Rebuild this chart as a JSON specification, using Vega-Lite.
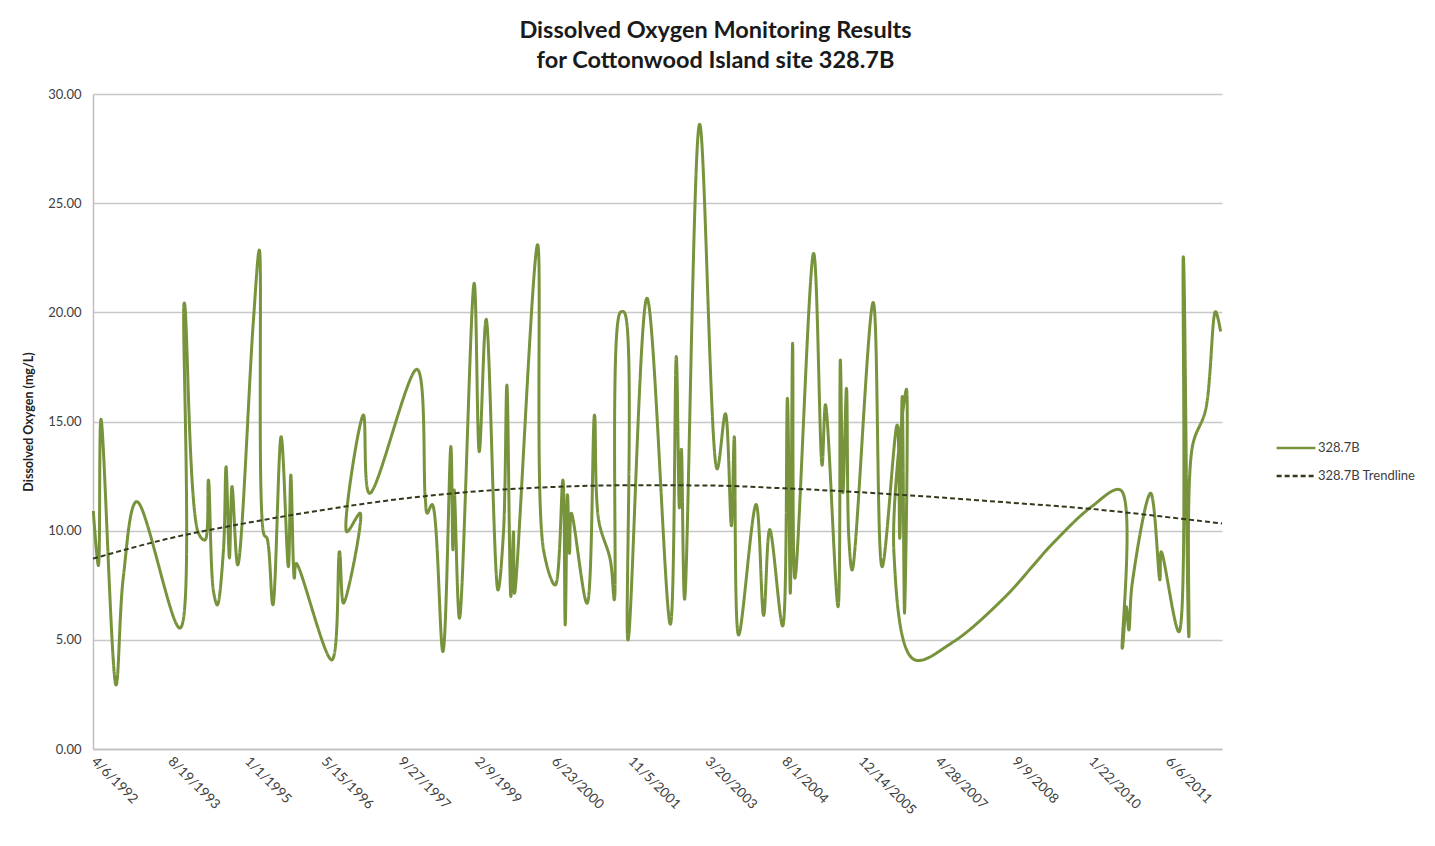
{
 "$schema": "https://vega.github.io/schema/vega-lite/v6.json",
 "width": 1129,
 "height": 655,
 "autosize": {"type": "none"},
 "padding": {"left": 93, "top": 94, "right": 213, "bottom": 97},
 "background": "white",
 "config": {"font": "Lato", "view": {"stroke": null}},
 "title": {
  "text": ["Dissolved Oxygen Monitoring Results", "for Cottonwood Island site 328.7B"],
  "frame": "group", "anchor": "middle", "dx": 58, "offset": 16,
  "fontSize": 23.5, "fontWeight": "bold", "color": "#1a1a1a", "lineHeight": 30, "font": "Lato"
 },
 "datasets": {
  "obs": [
   {"order": 1, "date": "1992-04-08", "value": 10.9, "series": "328.7B"},
   {"order": 2, "date": "1992-05-11", "value": 8.4, "series": "328.7B"},
   {"order": 3, "date": "1992-05-28", "value": 15.1, "series": "328.7B"},
   {"order": 4, "date": "1992-09-03", "value": 2.93, "series": "328.7B"},
   {"order": 5, "date": "1992-10-21", "value": 7.9, "series": "328.7B"},
   {"order": 6, "date": "1993-01-16", "value": 11.33, "series": "328.7B"},
   {"order": 7, "date": "1993-10-25", "value": 5.54, "series": "328.7B"},
   {"order": 8, "date": "1993-11-22", "value": 20.43, "series": "328.7B"},
   {"order": 9, "date": "1994-02-22", "value": 9.89, "series": "328.7B"},
   {"order": 10, "date": "1994-04-06", "value": 9.57, "series": "328.7B"},
   {"order": 11, "date": "1994-04-28", "value": 12.32, "series": "328.7B"},
   {"order": 12, "date": "1994-05-30", "value": 7.28, "series": "328.7B"},
   {"order": 13, "date": "1994-06-25", "value": 6.6, "series": "328.7B"},
   {"order": 14, "date": "1994-08-04", "value": 9.1, "series": "328.7B"},
   {"order": 15, "date": "1994-08-21", "value": 12.93, "series": "328.7B"},
   {"order": 16, "date": "1994-09-12", "value": 8.75, "series": "328.7B"},
   {"order": 17, "date": "1994-09-29", "value": 12.02, "series": "328.7B"},
   {"order": 18, "date": "1994-11-05", "value": 8.43, "series": "328.7B"},
   {"order": 19, "date": "1995-02-15", "value": 19.6, "series": "328.7B"},
   {"order": 20, "date": "1995-03-26", "value": 22.85, "series": "328.7B"},
   {"order": 21, "date": "1995-04-26", "value": 9.8, "series": "328.7B"},
   {"order": 22, "date": "1995-05-14", "value": 9.67, "series": "328.7B"},
   {"order": 23, "date": "1995-06-22", "value": 6.6, "series": "328.7B"},
   {"order": 24, "date": "1995-08-15", "value": 14.3, "series": "328.7B"},
   {"order": 25, "date": "1995-10-01", "value": 8.35, "series": "328.7B"},
   {"order": 26, "date": "1995-10-17", "value": 12.55, "series": "328.7B"},
   {"order": 27, "date": "1995-11-09", "value": 7.82, "series": "328.7B"},
   {"order": 28, "date": "1995-11-21", "value": 8.5, "series": "328.7B"},
   {"order": 29, "date": "1996-07-10", "value": 4.08, "series": "328.7B"},
   {"order": 30, "date": "1996-08-29", "value": 9.04, "series": "328.7B"},
   {"order": 31, "date": "1996-09-24", "value": 6.68, "series": "328.7B"},
   {"order": 32, "date": "1997-01-11", "value": 10.8, "series": "328.7B"},
   {"order": 33, "date": "1996-10-16", "value": 9.95, "series": "328.7B"},
   {"order": 34, "date": "1997-02-01", "value": 15.3, "series": "328.7B"},
   {"order": 35, "date": "1997-03-13", "value": 11.71, "series": "328.7B"},
   {"order": 36, "date": "1998-01-16", "value": 17.39, "series": "328.7B"},
   {"order": 37, "date": "1998-03-11", "value": 11.5, "series": "328.7B"},
   {"order": 38, "date": "1998-03-24", "value": 10.8, "series": "328.7B"},
   {"order": 39, "date": "1998-04-25", "value": 11.2, "series": "328.7B"},
   {"order": 40, "date": "1998-07-04", "value": 4.46, "series": "328.7B"},
   {"order": 41, "date": "1998-08-25", "value": 13.85, "series": "328.7B"},
   {"order": 42, "date": "1998-09-07", "value": 9.12, "series": "328.7B"},
   {"order": 43, "date": "1998-09-16", "value": 11.86, "series": "328.7B"},
   {"order": 44, "date": "1998-10-20", "value": 5.99, "series": "328.7B"},
   {"order": 45, "date": "1999-01-24", "value": 21.33, "series": "328.7B"},
   {"order": 46, "date": "1999-02-26", "value": 13.62, "series": "328.7B"},
   {"order": 47, "date": "1999-04-12", "value": 19.68, "series": "328.7B"},
   {"order": 48, "date": "1999-06-28", "value": 7.28, "series": "328.7B"},
   {"order": 49, "date": "1999-08-03", "value": 9.95, "series": "328.7B"},
   {"order": 50, "date": "1999-08-25", "value": 16.67, "series": "328.7B"},
   {"order": 51, "date": "1999-09-20", "value": 6.98, "series": "328.7B"},
   {"order": 52, "date": "1999-10-07", "value": 9.95, "series": "328.7B"},
   {"order": 53, "date": "1999-10-14", "value": 7.13, "series": "328.7B"},
   {"order": 54, "date": "2000-03-12", "value": 23.09, "series": "328.7B"},
   {"order": 55, "date": "2000-04-20", "value": 9.12, "series": "328.7B"},
   {"order": 56, "date": "2000-07-05", "value": 7.51, "series": "328.7B"},
   {"order": 57, "date": "2000-08-24", "value": 12.32, "series": "328.7B"},
   {"order": 58, "date": "2000-09-08", "value": 5.68, "series": "328.7B"},
   {"order": 59, "date": "2000-09-23", "value": 11.64, "series": "328.7B"},
   {"order": 60, "date": "2000-10-06", "value": 8.96, "series": "328.7B"},
   {"order": 61, "date": "2000-10-18", "value": 10.8, "series": "328.7B"},
   {"order": 62, "date": "2001-01-28", "value": 6.67, "series": "328.7B"},
   {"order": 63, "date": "2001-03-18", "value": 15.3, "series": "328.7B"},
   {"order": 64, "date": "2001-04-14", "value": 10.49, "series": "328.7B"},
   {"order": 65, "date": "2001-06-29", "value": 8.66, "series": "328.7B"},
   {"order": 66, "date": "2001-07-25", "value": 6.83, "series": "328.7B"},
   {"order": 67, "date": "2001-09-02", "value": 20.0, "series": "328.7B"},
   {"order": 68, "date": "2001-09-28", "value": 20.0, "series": "328.7B"},
   {"order": 69, "date": "2001-10-22", "value": 4.99, "series": "328.7B"},
   {"order": 70, "date": "2002-02-23", "value": 20.65, "series": "328.7B"},
   {"order": 71, "date": "2002-07-25", "value": 5.71, "series": "328.7B"},
   {"order": 72, "date": "2002-09-02", "value": 17.98, "series": "328.7B"},
   {"order": 73, "date": "2002-09-22", "value": 11.04, "series": "328.7B"},
   {"order": 74, "date": "2002-10-05", "value": 13.73, "series": "328.7B"},
   {"order": 75, "date": "2002-10-26", "value": 6.86, "series": "328.7B"},
   {"order": 76, "date": "2003-02-01", "value": 28.62, "series": "328.7B"},
   {"order": 77, "date": "2003-05-26", "value": 12.83, "series": "328.7B"},
   {"order": 78, "date": "2003-07-19", "value": 15.36, "series": "328.7B"},
   {"order": 79, "date": "2003-08-27", "value": 10.22, "series": "328.7B"},
   {"order": 80, "date": "2003-09-15", "value": 14.3, "series": "328.7B"},
   {"order": 81, "date": "2003-10-13", "value": 5.22, "series": "328.7B"},
   {"order": 82, "date": "2004-02-04", "value": 11.2, "series": "328.7B"},
   {"order": 83, "date": "2004-03-24", "value": 6.12, "series": "328.7B"},
   {"order": 84, "date": "2004-05-03", "value": 10.05, "series": "328.7B"},
   {"order": 85, "date": "2004-07-26", "value": 5.63, "series": "328.7B"},
   {"order": 86, "date": "2004-08-26", "value": 16.06, "series": "328.7B"},
   {"order": 87, "date": "2004-09-14", "value": 7.13, "series": "328.7B"},
   {"order": 88, "date": "2004-09-29", "value": 18.58, "series": "328.7B"},
   {"order": 89, "date": "2004-10-14", "value": 7.82, "series": "328.7B"},
   {"order": 90, "date": "2005-02-13", "value": 22.7, "series": "328.7B"},
   {"order": 91, "date": "2005-04-09", "value": 13.0, "series": "328.7B"},
   {"order": 92, "date": "2005-05-01", "value": 15.77, "series": "328.7B"},
   {"order": 93, "date": "2005-07-22", "value": 6.52, "series": "328.7B"},
   {"order": 94, "date": "2005-08-06", "value": 17.82, "series": "328.7B"},
   {"order": 95, "date": "2005-08-23", "value": 11.74, "series": "328.7B"},
   {"order": 96, "date": "2005-09-15", "value": 16.52, "series": "328.7B"},
   {"order": 97, "date": "2005-09-30", "value": 9.72, "series": "328.7B"},
   {"order": 98, "date": "2005-10-22", "value": 8.2, "series": "328.7B"},
   {"order": 99, "date": "2006-03-08", "value": 20.45, "series": "328.7B"},
   {"order": 100, "date": "2006-05-05", "value": 8.35, "series": "328.7B"},
   {"order": 101, "date": "2006-08-11", "value": 14.84, "series": "328.7B"},
   {"order": 102, "date": "2006-08-28", "value": 9.65, "series": "328.7B"},
   {"order": 103, "date": "2006-09-13", "value": 16.14, "series": "328.7B"},
   {"order": 104, "date": "2006-09-28", "value": 6.22, "series": "328.7B"},
   {"order": 105, "date": "2006-10-11", "value": 16.48, "series": "328.7B"},
   {"order": 106, "date": "2006-07-21", "value": 9.0, "series": "328.7B"},
   {"order": 107, "date": "2006-11-29", "value": 4.1, "series": "328.7B"},
   {"order": 108, "date": "2007-07-31", "value": 4.85, "series": "328.7B"},
   {"order": 109, "date": "2008-06-28", "value": 6.85, "series": "328.7B"},
   {"order": 110, "date": "2009-05-26", "value": 9.45, "series": "328.7B"},
   {"order": 111, "date": "2010-01-29", "value": 11.1, "series": "328.7B"},
   {"order": 112, "date": "2010-08-06", "value": 11.86, "series": "328.7B"},
   {"order": 113, "date": "2010-08-17", "value": 4.61, "series": "328.7B"},
   {"order": 114, "date": "2010-09-12", "value": 6.52, "series": "328.7B"},
   {"order": 115, "date": "2010-09-29", "value": 5.45, "series": "328.7B"},
   {"order": 116, "date": "2010-10-21", "value": 7.59, "series": "328.7B"},
   {"order": 117, "date": "2011-02-18", "value": 11.71, "series": "328.7B"},
   {"order": 118, "date": "2011-04-19", "value": 7.74, "series": "328.7B"},
   {"order": 119, "date": "2011-04-28", "value": 9.04, "series": "328.7B"},
   {"order": 120, "date": "2011-08-21", "value": 5.37, "series": "328.7B"},
   {"order": 121, "date": "2011-09-19", "value": 22.55, "series": "328.7B"},
   {"order": 122, "date": "2011-10-25", "value": 5.14, "series": "328.7B"},
   {"order": 123, "date": "2011-11-17", "value": 13.85, "series": "328.7B"},
   {"order": 124, "date": "2012-02-11", "value": 15.53, "series": "328.7B"},
   {"order": 125, "date": "2012-04-16", "value": 20.03, "series": "328.7B"},
   {"order": 126, "date": "2012-05-19", "value": 19.12, "series": "328.7B"}
  ],
  "trend": [
   {"date": "1992-04-06", "value": 8.72, "series": "328.7B Trendline"},
   {"date": "1993-08-19", "value": 9.65, "series": "328.7B Trendline"},
   {"date": "1995-01-01", "value": 10.35, "series": "328.7B Trendline"},
   {"date": "1996-05-15", "value": 10.95, "series": "328.7B Trendline"},
   {"date": "1997-09-27", "value": 11.45, "series": "328.7B Trendline"},
   {"date": "1999-02-09", "value": 11.8, "series": "328.7B Trendline"},
   {"date": "2000-06-23", "value": 12.0, "series": "328.7B Trendline"},
   {"date": "2001-11-05", "value": 12.08, "series": "328.7B Trendline"},
   {"date": "2003-03-20", "value": 12.07, "series": "328.7B Trendline"},
   {"date": "2004-08-01", "value": 11.94, "series": "328.7B Trendline"},
   {"date": "2005-12-14", "value": 11.76, "series": "328.7B Trendline"},
   {"date": "2007-04-28", "value": 11.53, "series": "328.7B Trendline"},
   {"date": "2008-09-09", "value": 11.27, "series": "328.7B Trendline"},
   {"date": "2010-01-22", "value": 11.0, "series": "328.7B Trendline"},
   {"date": "2011-06-06", "value": 10.62, "series": "328.7B Trendline"},
   {"date": "2012-05-28", "value": 10.33, "series": "328.7B Trendline"}
  ]
 },
 "encoding": {
  "x": {
   "field": "date", "type": "temporal",
   "scale": {"type": "utc", "domain": [{"year": 1992, "month": 4, "date": 6, "utc": true}, {"year": 2012, "month": 5, "date": 28, "utc": true}]},
   "axis": {
    "title": null, "grid": false, "ticks": false,
    "domain": true, "domainColor": "#bfbfbf", "domainWidth": 1.5,
    "values": [
     {"year": 1992, "month": 4, "date": 6, "utc": true},
     {"year": 1993, "month": 8, "date": 19, "utc": true},
     {"year": 1995, "month": 1, "date": 1, "utc": true},
     {"year": 1996, "month": 5, "date": 15, "utc": true},
     {"year": 1997, "month": 9, "date": 27, "utc": true},
     {"year": 1999, "month": 2, "date": 9, "utc": true},
     {"year": 2000, "month": 6, "date": 23, "utc": true},
     {"year": 2001, "month": 11, "date": 5, "utc": true},
     {"year": 2003, "month": 3, "date": 20, "utc": true},
     {"year": 2004, "month": 8, "date": 1, "utc": true},
     {"year": 2005, "month": 12, "date": 14, "utc": true},
     {"year": 2007, "month": 4, "date": 28, "utc": true},
     {"year": 2008, "month": 9, "date": 9, "utc": true},
     {"year": 2010, "month": 1, "date": 22, "utc": true},
     {"year": 2011, "month": 6, "date": 6, "utc": true}
    ],
    "labelExpr": "utcFormat(datum.value, '%-m/%-d/%Y')",
    "labelAngle": 45, "labelAlign": "left", "labelBaseline": "middle",
    "labelPadding": 10, "labelFontSize": 13.5, "labelColor": "#404040",
    "labelOverlap": false, "labelBound": false, "labelFlush": false
   }
  },
  "y": {
   "field": "value", "type": "quantitative",
   "scale": {"domain": [0, 30], "nice": false, "zero": true},
   "axis": {
    "title": "Dissolved Oxygen (mg/L)", "titleFontSize": 12.5, "titleFontWeight": "bold",
    "titleColor": "#222222", "titlePadding": 12,
    "values": [0, 5, 10, 15, 20, 25, 30], "format": ".2f",
    "labelFontSize": 13, "labelColor": "#404040", "labelPadding": 12,
    "ticks": false, "domain": true, "domainColor": "#bfbfbf", "domainWidth": 1.5,
    "grid": true, "gridColor": "#c8c8c8", "gridWidth": 1.3
   }
  },
  "color": {
   "field": "series", "type": "nominal",
   "scale": {"domain": ["328.7B", "328.7B Trendline"], "range": ["#77933C", "#333a1c"]},
   "legend": {
    "title": null, "orient": "none", "legendX": 1182, "legendY": 333,
    "symbolType": "stroke", "symbolSize": 1500, "symbolStrokeWidth": 2.5,
    "labelFontSize": 13, "labelColor": "#404040", "labelOffset": 1, "rowPadding": 0
   }
  },
  "strokeDash": {
   "field": "series", "type": "nominal",
   "scale": {"domain": ["328.7B", "328.7B Trendline"], "range": [[1, 0], [5, 3]]},
   "legend": {
    "title": null, "orient": "none", "legendX": 1182, "legendY": 333,
    "symbolType": "stroke", "symbolSize": 1500, "symbolStrokeWidth": 2.5,
    "labelFontSize": 13, "labelColor": "#404040", "labelOffset": 1, "rowPadding": 0
   }
  }
 },
 "layer": [
  {
   "data": {"name": "obs"},
   "mark": {"type": "line", "interpolate": "catmull-rom", "strokeWidth": 3},
   "encoding": {"order": {"field": "order", "type": "quantitative"}}
  },
  {
   "data": {"name": "trend"},
   "mark": {"type": "line", "interpolate": "monotone", "strokeWidth": 2}
  }
 ]
}
